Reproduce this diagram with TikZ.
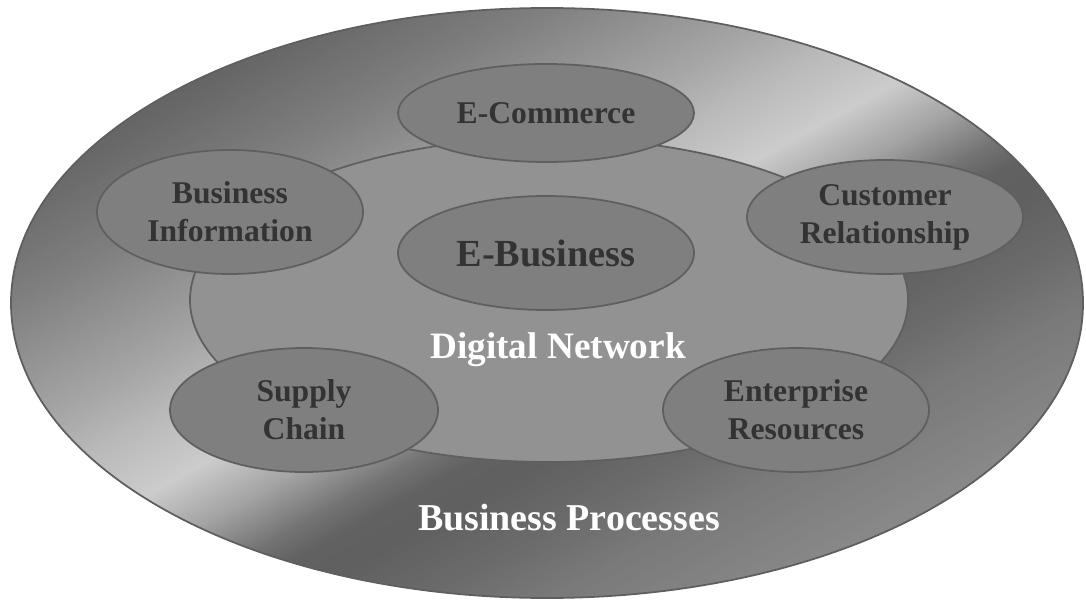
\documentclass[tikz,border=0pt]{standalone}
\usepackage{fontspec}
\setmainfont{Liberation Serif}
\usepackage{tikz}
\usetikzlibrary{shapes.geometric}

\definecolor{netfill}{HTML}{929292}
\definecolor{partfill}{HTML}{7F7F7F}
\definecolor{edgegray}{HTML}{5F5F5F}
\definecolor{labeltext}{HTML}{333333}

\begin{document}
\begin{tikzpicture}[
  part/.style={ellipse, draw=edgegray, line width=0.5pt, fill=partfill, inner sep=0pt,
    text=labeltext, align=center, font=\fontsize{9}{10.8}\selectfont\bfseries},
  title/.style={text=white, font=\fontsize{10.6}{12}\selectfont\bfseries}]
\useasboundingbox (0,0) rectangle (10.86,6.00);
% outer ring, metal look: bands across the diagonal
\begin{scope}[shift={(5.47,2.97)}, xscale=5.36, yscale=2.95]
\clip (0,0) circle (1);
\foreach \sa/\ga/\sb/\gb in {0.20/95/0.30/102, 0.30/102/0.50/128, 0.50/128/0.74/168,
    0.74/168/0.82/184, 0.82/184/0.95/204, 0.95/204/1.05/165, 1.05/165/1.14/118,
    1.14/118/1.20/98, 1.20/98/1.26/96, 1.26/96/1.39/108, 1.39/108/1.50/122,
    1.50/122/1.68/136, 1.68/136/1.80/140}
  \foreach \t in {0,0.05,...,0.97} {
    \pgfmathsetmacro\k{2*(\sa+\t*(\sb-\sa)-1)}
    \pgfmathtruncatemacro\g{\ga+\t*(\gb-\ga)}
    \definecolor{band}{RGB}{\g,\g,\g}
    \fill[band] (\k/2-2,-\k/2-2) -- (\k/2+2,-\k/2+2) -- (4,0) -- (0,-4) -- cycle;
  }
\end{scope}
\draw[edgegray, line width=0.5pt] (5.47,2.97) ellipse [x radius=5.36, y radius=2.95];
\draw[draw=edgegray, fill=netfill, line width=0.5pt]
  (5.49,3.00) ellipse [x radius=3.59, y radius=1.62];
\node[title] (network) at (5.58,2.50) {Digital Network};
\node[title, font=\fontsize{10.8}{12}\selectfont\bfseries] (processes) at (5.69,0.82) {Business Processes};
% parts
\node[part, minimum width=2.96cm, minimum height=0.98cm] (commerce) at (5.46,4.87) {E-Commerce};
\node[part, minimum width=2.66cm, minimum height=1.24cm] (info) at (2.30,3.88) {Business\\Information};
\node[part, minimum width=2.96cm, minimum height=1.14cm, font=\fontsize{10.9}{13}\selectfont\bfseries] (ebusiness) at (5.46,3.47) {E-Business};
\node[part, minimum width=2.76cm, minimum height=1.14cm] (customer) at (8.85,3.83) {Customer\\Relationship};
\node[part, minimum width=2.68cm, minimum height=1.24cm] (supply) at (3.04,1.90) {Supply\\Chain};
\node[part, minimum width=2.66cm, minimum height=1.24cm] (enterprise) at (7.96,1.90) {Enterprise\\Resources};
\end{tikzpicture}
\end{document}
